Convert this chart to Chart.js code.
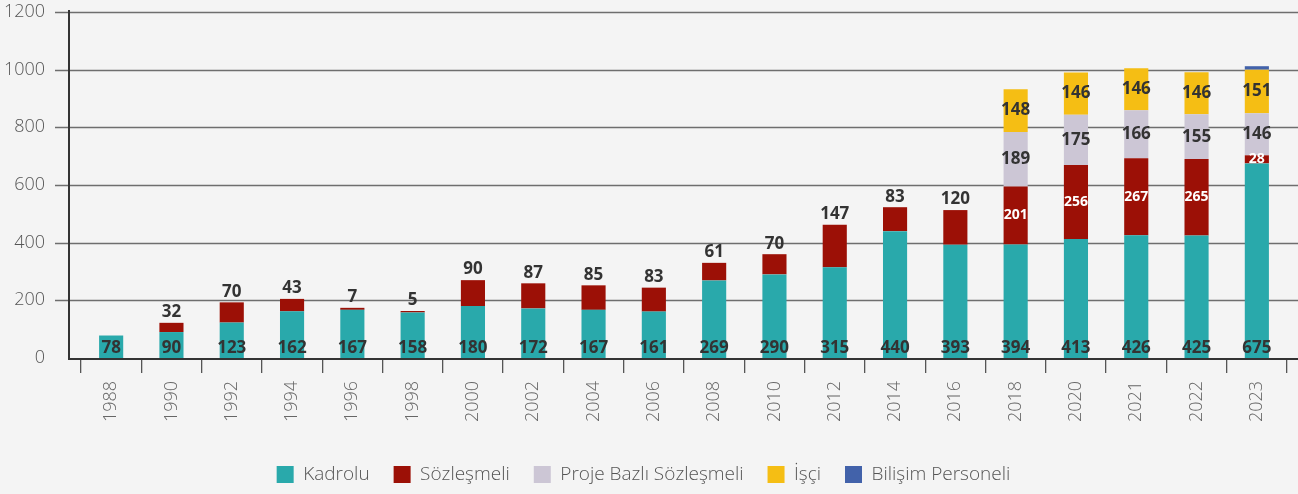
<!DOCTYPE html>
<html>
<head>
<meta charset="utf-8">
<script src="https://cdn.jsdelivr.net/npm/chart.js@4.4.0/dist/chart.umd.min.js"></script>
<style>
  html, body { margin: 0; padding: 0; background: #f4f4f4; }
  #wrap { width: 1298px; height: 494px; position: relative; }
</style>
</head>
<body>
<div id="wrap"><canvas id="chart"></canvas></div>
<script>
// --- data ---
const years = ['1988','1990','1992','1994','1996','1998','2000','2002','2004','2006','2008','2010','2012','2014','2016','2018','2020','2021','2022','2023'];
const kadrolu   = [78, 90, 123, 162, 167, 158, 180, 172, 167, 161, 269, 290, 315, 440, 393, 394, 413, 426, 425, 675];
const sozlesmeli = [0, 32, 70, 43, 7, 5, 90, 87, 85, 83, 61, 70, 147, 83, 120, 201, 256, 267, 265, 28];
const projeBazli = [null, null, null, null, null, null, null, null, null, null, null, null, null, null, null, 189, 175, 166, 155, 146];
const isci       = [null, null, null, null, null, null, null, null, null, null, null, null, null, null, null, 148, 146, 146, 146, 151];
const bilisim    = [null, null, null, null, null, null, null, null, null, null, null, null, null, null, null, null, null, null, null, 12];
const yTicks = [0, 200, 400, 600, 800, 1000, 1200];

const FONT = '"Open Sans", "Noto Sans", sans-serif';
const DARK = '#333333';

// value labels: bottom of teal, top/center of red, center of the rest
const labelPlugin = {
  id: 'valueLabels',
  afterDatasetsDraw(chart) {
    const ctx = chart.ctx;
    ctx.save();
    ctx.textAlign = 'center';
    chart.data.datasets.forEach((ds, di) => {
      if (ds.noLabels) return;
      const meta = chart.getDatasetMeta(di);
      meta.data.forEach((bar, i) => {
        const v = ds.data[i];
        if (!v) return;
        let y, color = DARK, size = 17;
        if (di === 0) {
          y = bar.base - 10; ctx.textBaseline = 'middle';
        } else if (di === 1 && projeBazli[i] == null) {
          y = bar.y - 2; ctx.textBaseline = 'bottom';
        } else {
          y = (bar.y + bar.base) / 2; ctx.textBaseline = 'middle';
          if (di === 1) { color = '#ffffff'; size = 14; }
        }
        ctx.font = '700 ' + size + 'px ' + FONT;
        ctx.fillStyle = color;
        ctx.fillText(String(v), bar.x, y);
      });
    });
    ctx.restore();
  }
};

// gridlines and axis lines reaching past the plot area like the original,
// plus the vertical year labels under each tick
const frame = {
  id: 'frame',
  beforeDatasetsDraw(chart) {
    const ctx = chart.ctx, y = chart.scales.y, a = chart.chartArea;
    ctx.save();
    ctx.strokeStyle = '#6e6e6e';
    ctx.lineWidth = 1.3;
    yTicks.slice(1).forEach(t => {
      const py = Math.round(y.getPixelForValue(t)) + 0.5;
      ctx.beginPath(); ctx.moveTo(55, py); ctx.lineTo(1298, py); ctx.stroke();
    });
    ctx.strokeStyle = '#333';
    ctx.lineWidth = 2;
    ctx.beginPath(); ctx.moveTo(69, y.getPixelForValue(1200) - 2); ctx.lineTo(69, a.bottom + 1); ctx.lineTo(1298, a.bottom + 1); ctx.stroke();
    ctx.restore();
  },
  afterDraw(chart) {
    const ctx = chart.ctx, x = chart.scales.x, a = chart.chartArea;
    ctx.save();
    ctx.font = '300 18px ' + FONT;
    ctx.fillStyle = '#666';
    ctx.textAlign = 'right';
    ctx.textBaseline = 'middle';
    years.forEach((yr, i) => {
      ctx.save();
      ctx.translate(x.getPixelForTick(i), a.bottom + 23);
      ctx.rotate(-Math.PI / 2);
      ctx.fillText(yr, 0, 0);
      ctx.restore();
    });
    ctx.restore();
  }
};

new Chart(document.getElementById('chart'), {
  type: 'bar',
  data: {
    labels: years,
    datasets: [
      { label: 'Kadrolu', data: kadrolu, backgroundColor: '#29a9ab' },
      { label: 'Sözleşmeli', data: sozlesmeli, backgroundColor: '#9c1006' },
      { label: 'Proje Bazlı Sözleşmeli', data: projeBazli, backgroundColor: '#ccc6d5' },
      { label: 'İşçi', data: isci, backgroundColor: '#f5be14' },
      { label: 'Bilişim Personeli', data: bilisim, backgroundColor: '#4262aa', noLabels: true }
    ].map(d => Object.assign(d, { barPercentage: 0.4, categoryPercentage: 1, borderWidth: 0 }))
  },
  options: {
    responsive: true,
    maintainAspectRatio: false,
    animation: false,
    layout: { padding: { top: 12, right: 11, left: 0, bottom: 0 } },
    plugins: {
      legend: {
        position: 'bottom',
        labels: { boxWidth: 17, boxHeight: 17, padding: 24, color: '#555', font: { family: FONT, size: 19, weight: '300' } }
      },
      tooltip: { enabled: false }
    },
    scales: {
      x: {
        stacked: true,
        offset: true,
        grid: { display: true, drawOnChartArea: false, tickLength: 15, color: '#555', lineWidth: 1.3 },
        border: { display: false },
        ticks: { display: false },
        afterFit: s => { s.height = 83; s.paddingLeft = 0; s.paddingRight = 0; }
      },
      y: {
        stacked: true,
        min: 0, max: 1200,
        afterBuildTicks: s => { s.ticks = yTicks.map(v => ({ value: v })); },
        grid: { display: false, drawTicks: false },
        border: { display: false },
        ticks: { padding: 36, color: '#555', font: { family: FONT, size: 18, weight: '300' }, callback: v => String(v) },
        afterFit: s => { s.width = 81; s.paddingTop = 11; s.paddingBottom = 11; }
      }
    }
  },
  plugins: [frame, labelPlugin]
});
</script>
</body>
</html>
